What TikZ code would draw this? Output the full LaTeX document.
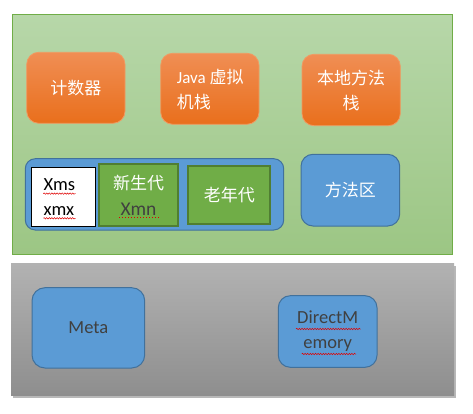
\documentclass[tikz,border=0pt]{standalone}
\usepackage{fontspec}
\setmainfont{Carlito}
\newfontfamily\cjk{Noto Sans CJK SC}
\usetikzlibrary{shadows,decorations.pathmorphing}
\definecolor{gtop}{HTML}{B7D7A9}
\definecolor{gbot}{HTML}{9CC684}
\definecolor{gedge}{HTML}{70AD47}
\definecolor{otop}{HTML}{F08E54}
\definecolor{obot}{HTML}{E96F1C}
\definecolor{oedge}{HTML}{F09A62}
\definecolor{bfill}{HTML}{5B9BD5}
\definecolor{bedge}{HTML}{41719C}
\definecolor{ifill}{HTML}{70AD47}
\definecolor{iedge}{HTML}{507E32}
\definecolor{graytop}{HTML}{B2B2B2}
\definecolor{graybot}{HTML}{8E8E8E}
\definecolor{dtext}{HTML}{404040}
\definecolor{squig}{HTML}{E00000}
\tikzset{
  box/.style={inner sep=0pt, outer sep=0pt, anchor=north west, align=center},
  greenbg/.style={box, top color=gtop, bottom color=gbot, draw=gedge, line width=1pt},
  graybg/.style={box, top color=graytop, bottom color=graybot, draw=none,
     drop shadow={shadow xshift=2pt, shadow yshift=-2.5pt, opacity=0.28, fill=black}},
  orangebox/.style={box, rounded corners=12pt, top color=otop, bottom color=obot, draw=oedge, line width=0.8pt,
     text=white, font=\fontsize{17}{25}\selectfont},
  bluebox/.style={box, rounded corners=12pt, fill=bfill, draw=bedge, line width=1pt},
  greenbox/.style={box, fill=ifill, draw=iedge, line width=2pt, font=\fontsize{17}{26}\selectfont},
  whitebox/.style={box, fill=white, draw=black, line width=0.8pt, font=\fontsize{18.5}{25}\selectfont},
  wavy/.style={draw=squig, line width=0.5pt, decorate, decoration={snake, amplitude=0.7pt, segment length=2.6pt}},
  dots/.style={draw=squig, line width=0.9pt, dash pattern=on 0.9pt off 2.1pt},
}
\begin{document}
\begin{tikzpicture}[x=1pt,y=-1pt]
\useasboundingbox (0,0) rectangle (473,414);
\fill[white] (0,0) rectangle (473,414);

% JVM region
\node[greenbg, minimum width=440.4pt, minimum height=240pt] (jvm) at (12.3,14.3) {};

\node[orangebox, minimum width=98.3pt, minimum height=71pt] (pc) at (26.7,52.3) {\cjk 计数器};
\node[orangebox, minimum width=98.3pt, minimum height=71pt] (jstack) at (160.7,53.3) {};
\node[align=left, text=white, font=\fontsize{17}{25}\selectfont, inner sep=0pt, anchor=west] (jstacktxt) at (176.7,89.5) {Java {\cjk 虚拟}\\{\cjk 机栈}};
\node[orangebox, minimum width=98.3pt, minimum height=71.4pt] (nstack) at (302,54.3) {\cjk 本地方法\\\cjk 栈};

\node[bluebox, rounded corners=10pt, minimum width=258.4pt, minimum height=71.3pt] (heap) at (25.3,158.7) {};
\node[whitebox, minimum width=64.4pt, minimum height=59pt] (xms) at (31.3,167.3) {};
\node[align=left, font=\fontsize{18.5}{25}\selectfont, inner sep=0pt, anchor=west] (xmstxt) at (43.3,197.5) {Xms\\xmx};
\node[greenbox, minimum width=79.6pt, minimum height=62pt] (young) at (98.7,164.3)
  {{\cjk\color{white}新生代}\\{\fontsize{19.5}{26}\selectfont\color{dtext}Xmn}};
\node[greenbox, minimum width=82pt, minimum height=58.6pt, text=white] (old) at (188.3,165.7) {\cjk 老年代};
\node[bluebox, minimum width=98.7pt, minimum height=71.7pt, text=white, font=\fontsize{17}{25}\selectfont] (method) at (301,154.3) {\cjk 方法区};

% Native region
\node[graybg, minimum width=443pt, minimum height=132.4pt] (native) at (11,263.3) {};
\node[bluebox, rounded corners=13pt, minimum width=112.7pt, minimum height=80.3pt, text=dtext, font=\fontsize{18.5}{25}\selectfont] (meta) at (32,287.7) {Meta};
\node[bluebox, minimum width=98.7pt, minimum height=71.6pt, text=dtext, font=\fontsize{18.5}{25}\selectfont] (direct) at (278.3,295.7) {DirectM\\emory};

% spell-check marks
\path[wavy] (43.3,193.6) -- (75.5,193.6);
\path[wavy] (43.3,218.3) -- (75.5,218.3);
\path[dots] (119,217.7) -- (158.5,217.7);
\path[wavy] (296,329) -- (360.7,329);
\path[wavy] (301.7,354) -- (356,354);
\end{tikzpicture}
\end{document}
